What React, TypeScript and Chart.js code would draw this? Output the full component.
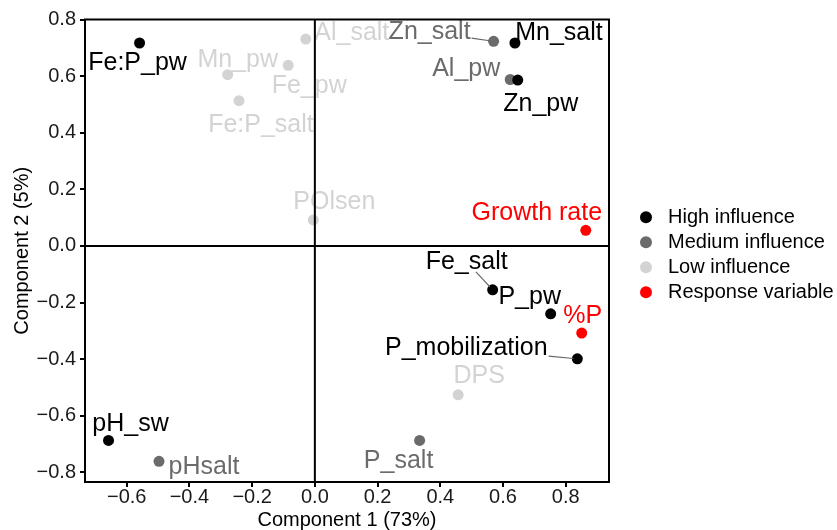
import React, { useEffect, useRef } from "react";
import { Chart, registerables } from "chart.js";

Chart.register(...registerables);

// ---------------- data ----------------
const variables = [
  "Fe:P_pw", "Mn_pw", "Fe_pw", "Al_salt", "Fe:P_salt", "POlsen",
  "Zn_salt", "Mn_salt", "Al_pw", "Zn_pw", "Growth rate", "Fe_salt",
  "P_pw", "%P", "P_mobilization", "DPS", "pH_sw", "pHsalt", "P_salt",
];
const component1 = [
  -0.559, -0.278, -0.085, -0.029, -0.242, -0.005,
  0.570, 0.638, 0.623, 0.647, 0.864, 0.567,
  0.752, 0.851, 0.837, 0.457, -0.658, -0.497, 0.334,
];
const component2 = [
  0.717, 0.605, 0.638, 0.731, 0.513, 0.092,
  0.723, 0.717, 0.588, 0.586, 0.055, -0.155,
  -0.240, -0.308, -0.399, -0.526, -0.687, -0.761, -0.687,
];
const influence = [
  "High", "Low", "Low", "Low", "Low", "Low",
  "Medium", "High", "Medium", "High", "Response", "High",
  "High", "Response", "High", "Low", "High", "Medium", "Medium",
];
const groups = ["High", "Medium", "Low", "Response"];
const groupLabels = ["High influence", "Medium influence", "Low influence", "Response variable"];
const xTicks = [-0.6, -0.4, -0.2, 0, 0.2, 0.4, 0.6, 0.8];
const yTicks = [-0.8, -0.6, -0.4, -0.2, 0, 0.2, 0.4, 0.6, 0.8];
const xTitle = "Component 1 (73%)";
const yTitle = "Component 2 (5%)";

// ---------------- styles ----------------
const FONT = "'Liberation Sans', Arial, Helvetica, sans-serif";
const groupColors: Record<string, string> = {
  High: "#000000",
  Medium: "#6b6b6b",
  Low: "#d3d3d3",
  Response: "#ff0000",
};
const groupOrder: Record<string, number> = { Response: 0, High: 1, Medium: 2, Low: 3 };
// label offsets in px relative to the point (style only)
const labelOffsets: Record<string, [number, number]> = {
  "Fe:P_pw": [-2, 20],
  "Mn_pw": [10, -15],
  "Fe_pw": [21, 21],
  "Al_salt": [46, -6],
  "Fe:P_salt": [22, 24],
  "POlsen": [21, -18],
  "Zn_salt": [-64, -9],
  "Mn_salt": [44, -10],
  "Al_pw": [-44, -10],
  "Zn_pw": [23, 24],
  "Growth rate": [-49, -17],
  "Fe_salt": [-26, -28],
  "P_pw": [-21, -17],
  "%P": [1, -17],
  "P_mobilization": [-111, -11],
  "DPS": [21, -19],
  "pH_sw": [22, -16],
  "pHsalt": [45, 6],
  "P_salt": [-21, 21],
};
const labelSegments = ["Zn_salt", "Fe_salt", "P_mobilization"];

const fmt = (v: number) => {
  const r = Math.round(v * 10) / 10;
  if (r === 0) return "0.0";
  return (r < 0 ? "\u2212" : "") + Math.abs(r).toFixed(1);
};

const labelPlugin = {
  id: "pointLabels",
  afterDatasetsDraw(chart: any) {
    const ctx = chart.ctx;
    ctx.save();
    ctx.font = `25px ${FONT}`;
    ctx.textAlign = "center";
    ctx.textBaseline = "middle";
    chart.data.datasets.forEach((ds: any, di: number) => {
      const meta = chart.getDatasetMeta(di);
      ds.data.forEach((d: any, j: number) => {
        const el = meta.data[j];
        if (!el) return;
        const px = el.x, py = el.y;
        const off = labelOffsets[d.name] || [0, 0];
        const cx = px + off[0], cy = py + off[1];
        if (labelSegments.includes(d.name)) {
          const w = ctx.measureText(d.name).width;
          const hw = w / 2 + 1, hh = 10;
          const dx = px - cx, dy = py - cy;
          const t = Math.min(dx !== 0 ? hw / Math.abs(dx) : Infinity, dy !== 0 ? hh / Math.abs(dy) : Infinity);
          const sx = cx + dx * t, sy = cy + dy * t;
          const len = Math.hypot(dx, dy);
          const ex = px - (dx / len) * 4, ey = py - (dy / len) * 4;
          ctx.strokeStyle = "#666666";
          ctx.lineWidth = 1.2;
          ctx.beginPath();
          ctx.moveTo(sx, sy);
          ctx.lineTo(ex, ey);
          ctx.stroke();
        }
        ctx.fillStyle = ds.backgroundColor;
        ctx.fillText(d.name, cx, cy);
      });
    });
    ctx.restore();
  },
};

const framePlugin = {
  id: "frameAndLegend",
  afterDraw(chart: any) {
    const ctx = chart.ctx;
    const { left, right, top, bottom } = chart.chartArea;
    const xs = chart.scales.x, ys = chart.scales.y;
    ctx.save();
    ctx.strokeStyle = "#000";
    ctx.lineWidth = 2;
    const x0 = xs.getPixelForValue(0);
    const y0 = ys.getPixelForValue(0);
    ctx.beginPath();
    ctx.moveTo(x0, top);
    ctx.lineTo(x0, bottom);
    ctx.moveTo(left, y0);
    ctx.lineTo(right, y0);
    ctx.stroke();
    ctx.strokeRect(left, top, right - left, bottom - top);

    // legend
    const mid = (top + bottom) / 2;
    ctx.font = `20px ${FONT}`;
    ctx.textAlign = "left";
    ctx.textBaseline = "middle";
    groups.forEach((g, i) => {
      const y = mid - 33.5 + i * 25;
      ctx.fillStyle = groupColors[g];
      ctx.beginPath();
      ctx.arc(right + 37, y, 6, 0, Math.PI * 2);
      ctx.fill();
      ctx.fillStyle = "#000";
      ctx.fillText(groupLabels[i], right + 59, y);
    });
    ctx.restore();
  },
};

export default function App() {
  const ref = useRef<HTMLCanvasElement | null>(null);
  useEffect(() => {
    if (!ref.current) return;
    const datasets = groups.map((g, gi) => {
      const data = variables
        .map((name, i) => ({ name, x: component1[i], y: component2[i], g: influence[i] }))
        .filter((d) => d.g === g)
        .map((d) => ({ x: d.x, y: d.y, name: d.name }));
      return {
        label: groupLabels[gi],
        data,
        backgroundColor: groupColors[g],
        borderWidth: 0,
        pointRadius: 5.5,
        pointHoverRadius: 5.5,
        order: groupOrder[g],
      };
    });
    const chart = new Chart(ref.current, {
      type: "scatter",
      data: { datasets },
      options: {
        responsive: false,
        devicePixelRatio: 1,
        animation: false,
        events: [],
        layout: { padding: { top: 19.5, right: 228, bottom: 0, left: 0 } },
        plugins: { legend: { display: false }, tooltip: { enabled: false } },
        scales: {
          x: {
            type: "linear",
            min: -0.733,
            max: 0.938,
            afterBuildTicks: (s: any) => {
              s.ticks = xTicks.map((v) => ({ value: v }));
            },
            afterFit: (s: any) => {
              s.height = 48;
            },
            ticks: {
              includeBounds: false,
              maxRotation: 0,
              autoSkip: false,
              padding: 0,
              color: "#1a1a1a",
              font: { family: FONT, size: 20, lineHeight: 1 },
              callback: (v: any) => fmt(Number(v)),
            },
            grid: {
              display: true,
              drawOnChartArea: false,
              drawTicks: true,
              tickLength: 5,
              tickColor: "#000",
              tickWidth: 2,
              lineWidth: 2,
            },
            border: { display: false },
            title: {
              display: true,
              text: xTitle,
              color: "#000",
              font: { family: FONT, size: 20, lineHeight: 1 },
              padding: { top: 0, bottom: 0 },
            },
          },
          y: {
            type: "linear",
            min: -0.834,
            max: 0.8,
            afterBuildTicks: (s: any) => {
              s.ticks = yTicks.map((v) => ({ value: v }));
            },
            afterFit: (s: any) => {
              s.width = 85;
            },
            ticks: {
              includeBounds: false,
              autoSkip: false,
              padding: 4,
              color: "#1a1a1a",
              font: { family: FONT, size: 20 },
              callback: (v: any) => fmt(Number(v)),
            },
            grid: {
              display: true,
              drawOnChartArea: false,
              drawTicks: true,
              tickLength: 5,
              tickColor: "#000",
              tickWidth: 2,
              lineWidth: 2,
            },
            border: { display: false },
            title: {
              display: true,
              text: yTitle,
              color: "#000",
              font: { family: FONT, size: 20 },
              padding: { top: 10, bottom: 0 },
            },
          },
        },
      },
      plugins: [labelPlugin, framePlugin],
    } as any);
    return () => chart.destroy();
  }, []);
  return (
    <div style={{ position: "fixed", left: 0, top: 0, width: 837, height: 530, background: "#fff" }}>
      <canvas ref={ref} width={837} height={530} style={{ display: "block" }} />
    </div>
  );
}
